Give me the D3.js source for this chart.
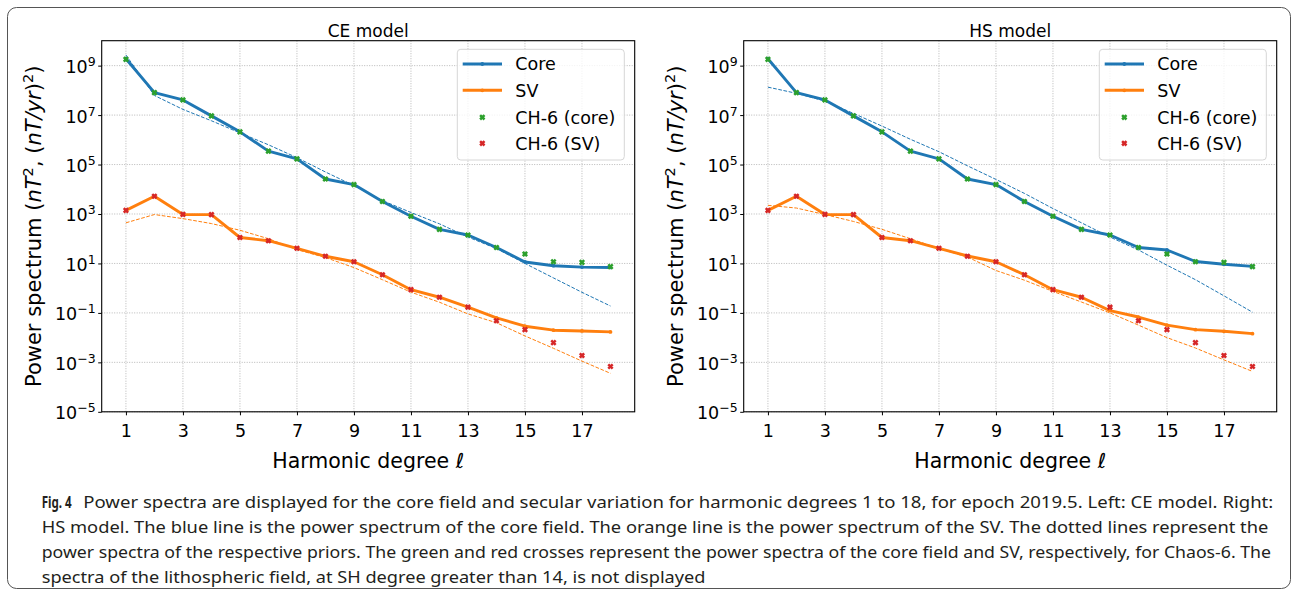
<!DOCTYPE html>
<html>
<head>
<meta charset="utf-8">
<script src="https://cdn.jsdelivr.net/npm/d3@7"></script>
<style>
  body { margin: 0; background: #fff; }
</style>
</head>
<body>
<script>
// harmonic degrees and axis ticks
var degrees = [1, 2, 3, 4, 5, 6, 7, 8, 9, 10, 11, 12, 13, 14, 15, 16, 17, 18];
var xTickValues = [1, 3, 5, 7, 9, 11, 13, 15, 17];
var yTickValues = [1e-5, 1e-3, 1e-1, 1e1, 1e3, 1e5, 1e7, 1e9];

// CE model spectra
var ceCore = [1.9e9, 8.1e7, 4.1e7, 9.3e6, 2.1e6, 3.5e5, 1.7e5, 2.6e4, 1.55e4, 3.2e3, 810, 240, 141, 44, 11.5, 8.1, 7.1, 6.9];
var ceCorePrior = [2.7e9, 6.2e7, 1.7e7, 5.9e6, 1.9e6, 6.3e5, 1.9e5, 5.0e4, 1.4e4, 3.5e3, 1150, 400, 117, 40, 10, 2.6, 0.68, 0.19];
var ceSV = [1400, 5200, 960, 940, 112, 83, 41, 19.5, 11.7, 3.5, 0.87, 0.43, 0.17, 0.063, 0.029, 0.020, 0.0186, 0.017];
var ceSVPrior = [440, 950, 650, 410, 220, 100, 36, 17.4, 6.8, 2.2, 0.69, 0.27, 0.091, 0.04, 0.0117, 0.0037, 0.00112, 0.00036];

// HS model spectra
var hsCore = [1.9e9, 8.1e7, 4.1e7, 9.3e6, 2.1e6, 3.5e5, 1.7e5, 2.6e4, 1.55e4, 3.2e3, 810, 240, 141, 44, 35, 12, 9.3, 7.6];
var hsCorePrior = [1.35e8, 7.6e7, 3.7e7, 1.17e7, 3.6e6, 1.05e6, 3.3e5, 8.9e4, 2.5e4, 6.8e3, 1660, 440, 117, 35, 8.5, 2.2, 0.49, 0.107];
var hsSV = [1400, 5200, 960, 940, 112, 83, 41, 20, 11.7, 3.5, 0.87, 0.43, 0.123, 0.068, 0.032, 0.021, 0.018, 0.0145];
var hsSVPrior = [2240, 1740, 950, 500, 240, 100, 40, 18.2, 5.2, 2.1, 0.74, 0.275, 0.1, 0.032, 0.01, 0.0038, 0.00126, 0.00043];

// CHAOS-6 reference spectra
var chaosCore = [1.8e9, 8.1e7, 4.1e7, 9.3e6, 2.1e6, 3.5e5, 1.7e5, 2.6e4, 1.55e4, 3.2e3, 810, 240, 141, 44, 24, 11.7, 11, 7.4];
var chaosSV = [1400, 5200, 960, 940, 112, 83, 41, 19.5, 11.7, 3.5, 0.87, 0.43, 0.17, 0.048, 0.021, 0.0063, 0.0019, 0.00068];

var legendLabels = ['Core', 'SV', 'CH-6 (core)', 'CH-6 (SV)'];

var captionLines = [
  'Power spectra are displayed for the core field and secular variation for harmonic degrees 1 to 18, for epoch 2019.5. Left: CE model. Right:',
  'HS model. The blue line is the power spectrum of the core field. The orange line is the power spectrum of the SV. The dotted lines represent the',
  'power spectra of the respective priors. The green and red crosses represent the power spectra of the core field and SV, respectively, for Chaos-6. The',
  'spectra of the lithospheric field, at SH degree greater than 14, is not displayed'
];

var BLUE = '#1f77b4', ORANGE = '#ff7f0e', GREEN = '#2ca02c', RED = '#d62728';
var FONT = 'DejaVu Sans';

var svg = d3.select('body').append('svg').attr('width', 1291).attr('height', 590);

// figure frame
svg.append('rect')
  .attr('x', 7.5).attr('y', 7.5).attr('width', 1283).attr('height', 581)
  .attr('rx', 9).attr('fill', 'none').attr('stroke', '#555').attr('stroke-width', 1);

// filled "X" marker
function xMarker(sel, color) {
  [45, -45].forEach(function (a) {
    sel.append('rect')
      .attr('x', -3.1).attr('y', -1.25).attr('width', 6.2).attr('height', 2.5)
      .attr('transform', 'rotate(' + a + ')')
      .attr('fill', color);
  });
}

function drawPanel(left, title, core, corePrior, sv, svPrior) {
  var plotW = 533, top = 40.7, bottom = 411.8;
  var x = d3.scaleLinear().domain([0.15, 18.85]).range([left, left + plotW]);
  var y = d3.scaleLog().domain([1e-5, 1.02e10]).range([bottom, top]);
  var g = svg.append('g');

  // grid
  g.selectAll('.vgrid').data(xTickValues).enter().append('line')
    .attr('x1', function (d) { return x(d); }).attr('x2', function (d) { return x(d); })
    .attr('y1', top).attr('y2', bottom)
    .attr('stroke', '#b0b0b0').attr('stroke-width', 0.9).attr('stroke-dasharray', '1,1.5');
  g.selectAll('.hgrid').data(yTickValues).enter().append('line')
    .attr('x1', left).attr('x2', left + plotW)
    .attr('y1', function (d) { return y(d); }).attr('y2', function (d) { return y(d); })
    .attr('stroke', '#b0b0b0').attr('stroke-width', 0.9).attr('stroke-dasharray', '1,1.5');

  function pts(vals) { return vals.map(function (v, i) { return {l: degrees[i], v: v}; }); }
  var line = d3.line().x(function (d) { return x(d.l); }).y(function (d) { return y(d.v); });

  // model spectra
  [[core, BLUE], [sv, ORANGE]].forEach(function (s) {
    g.append('path').datum(pts(s[0])).attr('d', line)
      .attr('fill', 'none').attr('stroke', s[1]).attr('stroke-width', 2.9)
      .attr('stroke-linejoin', 'round');
    g.selectAll(null).data(pts(s[0])).enter().append('circle')
      .attr('cx', function (d) { return x(d.l); }).attr('cy', function (d) { return y(d.v); })
      .attr('r', 1.9).attr('fill', s[1]);
  });

  // priors (dashed)
  [[corePrior, BLUE], [svPrior, ORANGE]].forEach(function (s) {
    g.append('path').datum(pts(s[0])).attr('d', line)
      .attr('fill', 'none').attr('stroke', s[1]).attr('stroke-width', 1)
      .attr('stroke-dasharray', '3.7,1.6');
  });

  // chaos-6 markers
  [[chaosCore, GREEN], [chaosSV, RED]].forEach(function (s) {
    g.selectAll(null).data(pts(s[0])).enter().append('g')
      .attr('transform', function (d) { return 'translate(' + x(d.l) + ',' + y(d.v) + ')'; })
      .each(function () { xMarker(d3.select(this), s[1]); });
  });

  // axes
  var xAxis = g.append('g').attr('transform', 'translate(0,' + bottom + ')')
    .call(d3.axisBottom(x).tickValues(xTickValues).tickSize(3.5).tickPadding(9.7).tickFormat(d3.format('d')))
    .attr('font-size', 17.5).attr('font-family', FONT);
  xAxis.select('.domain').remove();

  var yAxis = g.append('g').attr('transform', 'translate(' + left + ',0)')
    .call(d3.axisLeft(y).tickValues(yTickValues).tickSize(3.5).tickPadding(2.5).tickFormat(''))
    .attr('font-size', 17.5).attr('font-family', FONT);
  yAxis.select('.domain').remove();
  yAxis.selectAll('.tick text').attr('dy', 7).each(function (d) {
    var t = d3.select(this), e = Math.round(Math.log10(d));
    t.append('tspan').text('10');
    t.append('tspan').attr('dy', -7).attr('font-size', 12.5).text(e < 0 ? '\u2212' + (-e) : String(e));
  });

  g.append('rect').attr('x', left).attr('y', top).attr('width', plotW).attr('height', bottom - top)
    .attr('fill', 'none').attr('stroke', '#000').attr('stroke-width', 1.1);

  // title and axis labels
  g.append('text').attr('x', left + plotW / 2).attr('y', 37.3)
    .attr('text-anchor', 'middle').attr('font-family', FONT).attr('font-size', 17).text(title);
  g.append('text').attr('x', left + plotW / 2).attr('y', 468.3)
    .attr('text-anchor', 'middle').attr('font-family', FONT).attr('font-size', 20.5)
    .text('Harmonic degree \u2113');

  var yl = g.append('text')
    .attr('transform', 'translate(' + (left - 60.5) + ',' + ((top + bottom) / 2) + ') rotate(-90)')
    .attr('text-anchor', 'middle').attr('font-family', FONT).attr('font-size', 21);
  yl.append('tspan').text('Power spectrum (');
  yl.append('tspan').attr('font-style', 'italic').text('nT');
  yl.append('tspan').attr('font-size', 14.7).attr('dy', -8).text('2');
  yl.append('tspan').attr('dy', 8).text(', (');
  yl.append('tspan').attr('font-style', 'italic').text('nT/yr');
  yl.append('tspan').text(')');
  yl.append('tspan').attr('font-size', 14.7).attr('dy', -8).text('2');
  yl.append('tspan').attr('dy', 8).text(')');

  // legend
  var lg = g.append('g').attr('transform', 'translate(' + (left + 355.6) + ',49.3)');
  lg.append('rect').attr('width', 167).attr('height', 110.7).attr('rx', 3.5)
    .attr('fill', '#fff').attr('fill-opacity', 0.8).attr('stroke', '#d6d6d6').attr('stroke-width', 1);
  var rowY = [14.7, 41, 68, 94];
  [BLUE, ORANGE].forEach(function (c, i) {
    lg.append('line').attr('x1', 5.4).attr('x2', 44.7).attr('y1', rowY[i]).attr('y2', rowY[i])
      .attr('stroke', c).attr('stroke-width', 2.9);
    lg.append('circle').attr('cx', 25).attr('cy', rowY[i]).attr('r', 1.9).attr('fill', c);
  });
  [GREEN, RED].forEach(function (c, i) {
    var m = lg.append('g').attr('transform', 'translate(25,' + rowY[i + 2] + ')');
    xMarker(m, c);
  });
  legendLabels.forEach(function (lab, i) {
    lg.append('text').attr('x', 58).attr('y', rowY[i] + 6.4)
      .attr('font-family', FONT).attr('font-size', 17.5).text(lab);
  });
}

drawPanel(101.7, 'CE model', ceCore, ceCorePrior, ceSV, ceSVPrior);
drawPanel(743.7, 'HS model', hsCore, hsCorePrior, hsSV, hsSVPrior);

// caption
var capFont = '"Noto Sans", "Open Sans", sans-serif';
var capSize = 16.5;
var capY = [508.3, 533, 558, 582.5];
var capEnd = [1273.3, 1268.3, 1271];
svg.append('text').attr('x', 41.7).attr('y', capY[0])
  .attr('font-family', capFont).attr('font-size', capSize).attr('font-weight', 'bold')
  .attr('fill', '#231f20').attr('textLength', 30).attr('lengthAdjust', 'spacingAndGlyphs')
  .text('Fig. 4');
var ratios = [];
captionLines.forEach(function (txt, i) {
  var x0 = i === 0 ? 83.3 : 41.7;
  var t = svg.append('text').attr('x', x0).attr('y', capY[i])
    .attr('font-family', capFont).attr('font-size', capSize).attr('fill', '#231f20').text(txt);
  var natural = t.node().getComputedTextLength();
  if (i < 3) {
    var target = capEnd[i] - x0;
    ratios.push(target / natural);
    t.attr('textLength', target).attr('lengthAdjust', 'spacingAndGlyphs');
  } else {
    t.attr('textLength', natural * d3.mean(ratios)).attr('lengthAdjust', 'spacingAndGlyphs');
  }
});
</script>
</body>
</html>
